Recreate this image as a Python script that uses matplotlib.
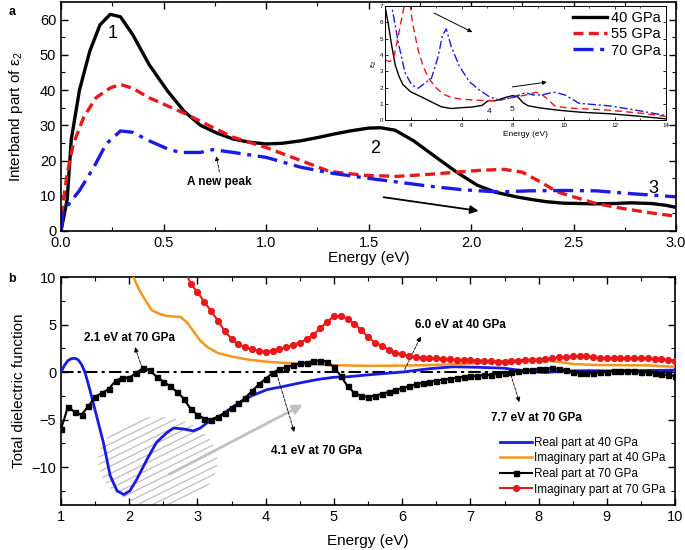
import numpy as np
import matplotlib
matplotlib.use('Agg')
import matplotlib.pyplot as plt
from matplotlib.patches import Ellipse

plt.rcParams['font.family'] = ['Liberation Sans', 'DejaVu Sans']
plt.rcParams['mathtext.fontset'] = 'custom'
plt.rcParams['mathtext.rm'] = 'Liberation Sans'

# ---- panel a: interband eps2 (0-3 eV)
e40_x = [0, 0.03, 0.05, 0.09, 0.14, 0.19, 0.24, 0.29, 0.35, 0.43, 0.52, 0.6, 0.68, 0.76, 0.84, 0.92,
         1.0, 1.08, 1.17, 1.25, 1.33, 1.41, 1.5, 1.56, 1.63, 1.72, 1.83, 1.93, 2.03, 2.12, 2.22, 2.3,
         2.37, 2.45, 2.6, 2.7, 2.78, 2.88, 2.95, 3.0]
e40_y = [0, 9, 26, 40, 51, 58.5, 61.5, 60.8, 55.7, 47.2, 39.7, 34, 30, 27.8, 26.1, 25.2,
         24.7, 24.9, 25.6, 26.5, 27.5, 28.4, 29.2, 29.3, 28.6, 25.6, 20.9, 16.7, 13, 11, 9.7, 8.9,
         8.3, 7.9, 7.7, 7.8, 8.0, 7.8, 7.3, 6.7]
e55_x = [0, 0.01, 0.03, 0.06, 0.11, 0.17, 0.24, 0.29, 0.35, 0.43, 0.52, 0.61, 0.74, 0.84, 1.0, 1.17,
         1.31, 1.48, 1.64, 1.8, 1.93, 2.04, 2.16, 2.25, 2.34, 2.42, 2.5, 2.61, 2.74, 2.87, 3.0]
e55_y = [0, 8, 16.3, 24.7, 32.2, 37.8, 40.6, 41.6, 40.5, 37.8, 35.5, 33.2, 29.4, 26.6, 23.7, 20,
         16.9, 15.8, 15.5, 16.1, 16.7, 17.2, 17.5, 16.7, 13.9, 11.1, 9.7, 7.8, 6.4, 5.2, 4.2]
e70_x = [0, 0.01, 0.04, 0.09, 0.16, 0.22, 0.29, 0.35, 0.43, 0.52, 0.58, 0.68, 0.74, 0.84, 1.0, 1.17,
         1.31, 1.48, 1.64, 1.8, 1.96, 2.13, 2.29, 2.45, 2.61, 2.78, 3.0]
e70_y = [0, 5, 7.8, 11.5, 18.1, 24.7, 28.4, 28, 25.6, 23.3, 22.3, 22.3, 23.1, 22.3, 20.9, 18.1,
         16.5, 15.1, 13.9, 12.7, 11.7, 11.1, 11.4, 11.5, 11.4, 10.6, 9.7]

# inset (3-14 eV)
in40_x = [3.0, 3.13, 3.25, 3.4, 3.55, 3.7, 4.0, 4.4, 4.8, 5.2, 5.6, 6.0, 6.4, 6.8, 6.95, 7.05, 7.3,
          7.7, 8.0, 8.2, 8.4, 8.6, 9.1, 9.9, 10.7, 11.8, 12.8, 14.0]
in40_y = [7.0, 5.9, 4.7, 3.4, 2.7, 2.2, 1.76, 1.46, 1.15, 0.84, 0.73, 0.78, 0.82, 0.92, 1.1, 1.22, 1.2,
          1.4, 1.52, 1.45, 1.1, 0.9, 0.76, 0.61, 0.5, 0.41, 0.28, 0.1]
in55_x = [3.0, 3.2, 3.35, 3.5, 3.65, 3.8, 3.95, 4.1, 4.3, 4.5, 4.7, 5.0, 5.3, 5.6, 6.0, 6.5, 7.0, 7.5,
          8.0, 8.5, 8.9, 9.1, 9.3, 9.65, 10.0, 10.4, 11.0, 11.7, 13.05, 14.0]
in55_y = [3.7, 3.6, 3.9, 5.0, 6.2, 7.4, 7.4, 5.8, 4.3, 3.3, 2.6, 2.0, 1.6, 1.4, 1.3, 1.25, 1.2, 1.25,
          1.4, 1.55, 1.72, 1.65, 1.4, 0.89, 0.8, 0.74, 0.7, 0.64, 0.44, 0.25]
in70_x = [3.15, 3.27, 3.53, 3.79, 4.05, 4.3, 4.56, 4.82, 5.08, 5.25, 5.4, 5.6, 5.92, 6.31, 6.7, 7.09,
          7.48, 7.88, 8.27, 8.5, 8.79, 9.15, 9.45, 9.67, 10.05, 10.6, 11.8, 12.8, 14.0]
in70_y = [7.5, 6.95, 4.7, 2.9, 2.17, 1.97, 2.27, 2.58, 3.9, 5.2, 5.6, 4.5, 3.3, 2.37, 1.86, 1.45,
          1.25, 1.36, 1.56, 1.7, 1.56, 1.56, 1.68, 1.72, 1.56, 1.05, 0.89, 0.64, 0.3]

# ---- panel b: total dielectric function (1-10 eV)
re40_x = [1.0, 1.05, 1.1, 1.15, 1.2, 1.25, 1.3, 1.35, 1.42, 1.52, 1.62, 1.72, 1.82, 1.92, 2.01, 2.11,
          2.26, 2.4, 2.55, 2.65, 2.8, 2.94, 3.04, 3.14, 3.34, 3.53, 3.78, 4.02, 4.27, 4.5, 4.75, 5.0,
          5.2, 5.5, 6.0, 6.4, 6.75, 7.1, 7.5, 7.8, 8.1, 8.4, 8.75, 9.0, 9.5, 10.0]
re40_y = [0, 0.7, 1.2, 1.4, 1.45, 1.3, 0.8, 0.0, -1.8, -4.6, -7.4, -10.9, -12.5, -12.9, -12.5, -11.3,
          -9.2, -7.4, -6.4, -5.9, -6.0, -6.2, -5.9, -5.35, -4.6, -3.6, -2.55, -1.85, -1.5, -1.15, -0.8, -0.55,
          -0.5, -0.3, 0.0, 0.35, 0.55, 0.5, 0.4, 0.1, -0.05, 0.1, 0.15, 0.1, 0.15, 0.2]
im40_x = [2.0, 2.06, 2.15, 2.25, 2.33, 2.45, 2.55, 2.65, 2.75, 2.85, 2.95, 3.04, 3.15, 3.3, 3.52, 3.75,
          4.02, 4.3, 4.6, 5.0, 5.5, 6.0, 6.5, 7.0, 7.5, 7.8, 8.1, 8.3, 8.5, 8.8, 9.2, 9.6, 10.0]
im40_y = [11, 10, 8.6, 7.4, 6.5, 6.1, 5.9, 5.85, 5.8, 5.2, 4.2, 3.3, 2.6, 2.0, 1.6, 1.3,
          1.08, 0.95, 0.85, 0.72, 0.65, 0.68, 0.75, 0.9, 1.15, 1.25, 1.25, 1.05, 0.85, 0.75, 0.72, 0.7, 0.55]
re70_x = [1.0, 1.1, 1.2, 1.3, 1.4, 1.5, 1.6, 1.7, 1.8, 1.9, 2.0, 2.1, 2.2, 2.3, 2.4, 2.5, 2.6, 2.7,
          2.8, 2.9, 3.0, 3.1, 3.2, 3.3, 3.4, 3.5, 3.6, 3.7, 3.8, 3.9, 4.0, 4.1, 4.2, 4.3, 4.4, 4.5,
          4.6, 4.7, 4.8, 4.9, 5.0, 5.1, 5.2, 5.3, 5.4, 5.5, 5.6, 5.7, 5.8, 5.9, 6.0, 6.1, 6.2, 6.3,
          6.4, 6.5, 6.6, 6.7, 6.8, 6.9, 7.0, 7.1, 7.2, 7.3, 7.4, 7.5, 7.6, 7.7, 7.8, 7.9, 8.0, 8.1,
          8.2, 8.3, 8.4, 8.5, 8.6, 8.7, 8.8, 8.9, 9.0, 9.1, 9.2, 9.3, 9.4, 9.5, 9.6, 9.7, 9.8, 9.9, 10.0]
re70_y = [-6.0, -3.7, -4.2, -4.5, -3.6, -2.6, -2.2, -1.8, -0.9, -0.6, -0.6, -0.1, 0.4, 0.2, -0.5, -1.0,
          -1.5, -2.1, -2.8, -3.9, -4.5, -4.9, -5.0, -4.7, -4.3, -3.8, -3.3, -2.7, -2.0, -1.3, -0.7, -0.1,
          0.3, 0.5, 0.7, 0.9, 1.0, 1.15, 1.2, 1.1, 0.5, -0.4, -1.5, -2.2, -2.5, -2.6, -2.5, -2.3, -2.1,
          -1.9, -1.7, -1.5, -1.3, -1.15, -1.0, -0.9, -0.8, -0.7, -0.6, -0.5, -0.45, -0.4, -0.35, -0.3,
          -0.2, -0.1, 0.0, 0.1, 0.2, 0.25, 0.3, 0.35, 0.4, 0.35, 0.2, 0.0, -0.1, -0.15, -0.1, 0.0, 0.05,
          0.1, 0.15, 0.15, 0.1, 0.05, 0.0, -0.1, -0.25, -0.35, -0.4]
im70_x = [2.8, 2.9, 3.0, 3.1, 3.2, 3.3, 3.4, 3.5, 3.6, 3.7, 3.8, 3.9, 4.0, 4.1, 4.2, 4.3, 4.4, 4.5,
          4.6, 4.7, 4.8, 4.9, 5.0, 5.1, 5.2, 5.3, 5.4, 5.5, 5.6, 5.7, 5.8, 5.9, 6.0, 6.1, 6.2, 6.3,
          6.4, 6.5, 6.6, 6.7, 6.8, 6.9, 7.0, 7.1, 7.2, 7.3, 7.4, 7.5, 7.6, 7.7, 7.8, 7.9, 8.0, 8.1,
          8.2, 8.3, 8.4, 8.5, 8.6, 8.7, 8.8, 8.9, 9.0, 9.1, 9.2, 9.3, 9.4, 9.5, 9.6, 9.7, 9.8, 9.9, 10.0]
im70_y = [11.0, 9.3, 8.4, 7.4, 6.4, 5.4, 4.3, 3.5, 2.9, 2.6, 2.4, 2.2, 2.15, 2.25, 2.4, 2.6, 2.85, 3.1,
          3.45, 3.95, 4.6, 5.3, 5.85, 5.95, 5.6, 5.1, 4.4, 3.7, 3.1, 2.75, 2.35, 2.05, 1.85, 1.7, 1.55, 1.5,
          1.45, 1.45, 1.4, 1.35, 1.3, 1.3, 1.25, 1.2, 1.2, 1.15, 1.1, 1.1, 1.15, 1.2, 1.25, 1.3, 1.3, 1.35,
          1.45, 1.55, 1.6, 1.65, 1.7, 1.65, 1.55, 1.5, 1.45, 1.45, 1.45, 1.45, 1.45, 1.45, 1.45, 1.4, 1.35,
          1.3, 1.2]

fig = plt.figure(figsize=(6.85, 5.5), dpi=100)

def style_axes(ax, size=10.5, major=5, minor=3):
    ax.tick_params(which='both', direction='in', top=True, right=True, labelsize=size)
    ax.tick_params(which='major', length=major, width=1)
    ax.tick_params(which='minor', length=minor, width=0.8)
    for s in ax.spines.values():
        s.set_linewidth(1.2)

# ----- top panel
ax1 = fig.add_axes([0.0891, 0.58, 0.8978, 0.4164])
ax1.plot(e40_x, e40_y, color='black', lw=2.4, label='40 GPa')
ax1.plot(e55_x, e55_y, color='#e8191b', lw=2.4, ls=(0, (3, 1.6)), label='55 GPa')
ax1.plot(e70_x, e70_y, color='#1a1ae6', lw=2.4, ls=(0, (6, 2, 1.2, 2)), label='70 GPa')
ax1.set_xlim(0, 3)
ax1.set_ylim(0, 65)
ax1.set_xticks(np.arange(0, 3.01, 0.5))
ax1.set_xticks(np.arange(0.25, 3, 0.5), minor=True)
ax1.set_yticks(np.arange(0, 61, 10))
ax1.set_yticks(np.arange(5, 65, 10), minor=True)
ax1.xaxis.set_major_formatter(matplotlib.ticker.FormatStrFormatter('%.1f'))
style_axes(ax1)
ax1.set_xlabel('Energy (eV)', fontsize=11, labelpad=1)
ax1.set_ylabel('Interband part of ε$_2$', fontsize=11, labelpad=11)
ax1.text(0.25, 56, '1', fontsize=13, ha='center', va='center')
ax1.text(1.53, 23.3, '2', fontsize=13, ha='center', va='center')
ax1.text(2.89, 12, '3', fontsize=13, ha='center', va='center')
ax1.annotate('', xy=(0.755, 22), xytext=(0.775, 16),
             arrowprops=dict(arrowstyle='-|>', lw=0.6, ls='--', color='black', mutation_scale=6))
ax1.text(0.77, 13.9, 'A new peak', fontsize=8.5, fontweight='bold', ha='center', va='center')
ax1.annotate('', xy=(2.05, 5.6), xytext=(1.56, 9.7),
             arrowprops=dict(arrowstyle='-|>', lw=1.3, color='black', mutation_scale=12))
fig.text(0.012, 0.972, 'a', fontsize=9, fontweight='bold')

# ----- inset
axi = fig.add_axes([0.562, 0.781, 0.410, 0.208])
axi.plot(in40_x, in40_y, color='black', lw=1.0)
axi.plot(in55_x, in55_y, color='#e8191b', lw=1.0, ls=(0, (5, 3)))
axi.plot(in70_x, in70_y, color='#1a1ae6', lw=1.0, ls=(0, (6, 2, 1.5, 2)))
axi.set_xlim(3, 14)
axi.set_ylim(0, 7)
axi.set_xticks([4, 6, 8, 10, 12, 14])
axi.set_xticks(np.arange(3, 14.1, 1), minor=True)
axi.set_yticks(range(0, 8))
axi.tick_params(which='both', direction='in', top=True, right=True, labelsize=4.5, pad=1.5)
axi.tick_params(which='major', length=2.5, width=0.6)
axi.tick_params(which='minor', length=1.5, width=0.5)
for s in axi.spines.values():
    s.set_linewidth(0.7)
axi.set_xlabel('Energy (eV)', fontsize=6, labelpad=2.5)
axi.set_ylabel('ε$_2$', fontsize=6, labelpad=0.5)
axi.text(7.06, 0.54, '4', fontsize=6, ha='center', va='center')
axi.text(7.99, 0.68, '5', fontsize=6, ha='center', va='center')
axi.annotate('', xy=(6.52, 5.33), xytext=(4.82, 6.65),
             arrowprops=dict(arrowstyle='-|>', lw=0.7, color='black', mutation_scale=6))
axi.annotate('', xy=(9.45, 2.37), xytext=(7.88, 2.03),
             arrowprops=dict(arrowstyle='-|>', lw=0.7, color='black', mutation_scale=6))
handles, labels = ax1.get_legend_handles_labels()
axi.legend(handles, labels, loc='upper right', frameon=False, fontsize=10.5, handlelength=2.3,
           labelspacing=0.15, handletextpad=0.3, borderaxespad=0.15, borderpad=0.2)

# ----- bottom panel
ax2 = fig.add_axes([0.0891, 0.0818, 0.8964, 0.4145])
ax2.axhline(0, color='black', lw=1.5, ls=(0, (6, 2, 1.5, 2)), zorder=1)

# hatched region (decoration)
ell = Ellipse((2.42, -9.4), 1.75, 9.4, facecolor='none', edgecolor='none')
ax2.add_patch(ell)
for x0 in np.arange(-2.0, 4.0, 0.22):
    hl, = ax2.plot([x0, x0 + 6], [-20, -20 + 6 * 3.55], color='#bdbdbd', lw=0.9, zorder=1)
    hl.set_clip_path(ell)

ax2.plot(re40_x, re40_y, color='#1a1ae6', lw=2.0, label='Real part at 40 GPa', zorder=3)
ax2.plot(im40_x, im40_y, color='#f7941d', lw=1.8, label='Imaginary part at 40 GPa', zorder=3)
ax2.plot(re70_x, re70_y, color='black', lw=1.5, marker='s', ms=3.6, label='Real part at 70 GPa', zorder=4)
ax2.plot(im70_x, im70_y, color='#e8191b', lw=1.5, marker='o', ms=4.2, label='Imaginary part at 70 GPa', zorder=4)
ax2.set_xlim(1, 10)
ax2.set_ylim(-14, 10)
ax2.set_xticks(range(1, 11))
ax2.set_xticks(np.arange(1.5, 10, 1), minor=True)
ax2.set_yticks([-10, -5, 0, 5, 10])
ax2.set_yticks([-12.5, -7.5, -2.5, 2.5, 7.5], minor=True)
style_axes(ax2)
ax2.set_xlabel('Energy (eV)', fontsize=11, labelpad=7)
ax2.set_ylabel('Total dielectric function', fontsize=11, labelpad=4)

darrow = dict(arrowstyle='-|>', lw=0.6, ls='--', color='black', mutation_scale=7)
ax2.annotate('', xy=(2.07, 2.9), xytext=(2.2, 0.2), arrowprops=darrow)
ax2.text(2.01, 3.55, '2.1 eV at 70 GPa', fontsize=8.5, fontweight='bold', ha='center', va='center')
ax2.annotate('', xy=(4.43, -6.6), xytext=(4.15, 0.1), arrowprops=darrow)
ax2.text(4.75, -8.3, '4.1 eV at 70 GPa', fontsize=8.5, fontweight='bold', ha='center', va='center')
ax2.annotate('', xy=(6.29, 4.0), xytext=(6.02, 0.0), arrowprops=darrow)
ax2.text(6.85, 4.9, '6.0 eV at 40 GPa', fontsize=8.5, fontweight='bold', ha='center', va='center')
ax2.annotate('', xy=(7.73, -3.45), xytext=(7.58, 0.0), arrowprops=darrow)
ax2.text(7.97, -4.8, '7.7 eV at 70 GPa', fontsize=8.5, fontweight='bold', ha='center', va='center')
ax2.annotate('', xy=(4.58, -3.3), xytext=(2.55, -10.9),
             arrowprops=dict(arrowstyle='-|>', lw=2.0, color='#c0c0c0', mutation_scale=14), zorder=2)

ax2.legend(loc='lower right', frameon=False, fontsize=8.5, handlelength=2.7, labelspacing=0.3,
           handletextpad=0.2, borderaxespad=0.4)
fig.text(0.012, 0.488, 'b', fontsize=9, fontweight='bold')

fig.savefig('out.png', dpi=100)
